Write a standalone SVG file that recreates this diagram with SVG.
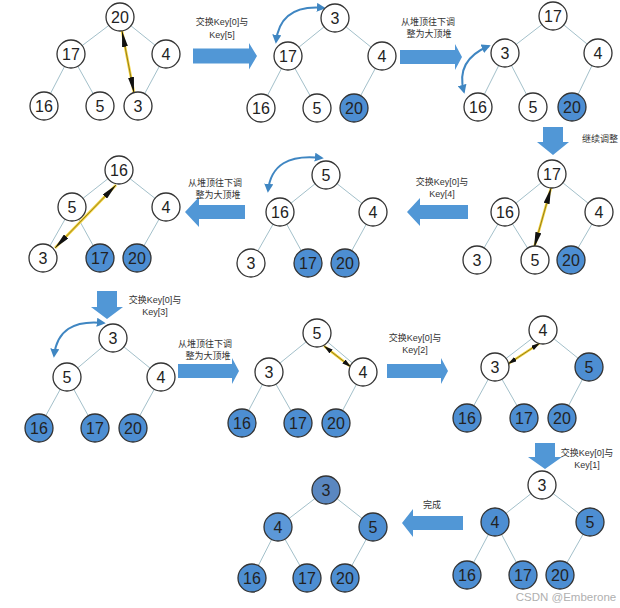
<svg xmlns="http://www.w3.org/2000/svg" width="620" height="608" viewBox="0 0 620 608">
<style>
.e{stroke:#a3c0ca;stroke-width:1;fill:none}
.n circle{fill:#fff;stroke:#333;stroke-width:1.3}
.n circle.f{fill:#4d8ed2}
.n text{font-family:"Liberation Sans",Arial,sans-serif;font-size:16px;fill:#222;text-anchor:middle}
.lb{font-family:"Liberation Sans","Noto Sans CJK SC",sans-serif;font-size:9px;fill:#333;text-anchor:middle}
.ba{fill:#5197d6}
.ya{stroke:#f3d23a;stroke-width:2.6;fill:none}
.yc{stroke:#6b5a10;stroke-width:0.7;fill:none}
.cv{stroke:#3f86c2;stroke-width:2;fill:none}
</style>
<defs>
<marker id="mk" viewBox="0 0 16 6" refX="16" refY="3" markerWidth="16" markerHeight="6" orient="auto-start-reverse" markerUnits="userSpaceOnUse"><path d="M0,0 L16,3 L0,6 z" fill="#111"/></marker>
<marker id="ms" viewBox="0 0 9 5" refX="9" refY="2.5" markerWidth="9" markerHeight="5" orient="auto-start-reverse" markerUnits="userSpaceOnUse"><path d="M0,0 L9,2.5 L0,5 z" fill="#111"/></marker>
<marker id="mb" viewBox="0 0 10 10" refX="8" refY="5" markerWidth="9" markerHeight="9" orient="auto-start-reverse" markerUnits="userSpaceOnUse"><path d="M0,0 L10,5 L0,10 z" fill="#3f86c2"/></marker>
</defs>
<rect width="620" height="608" fill="#fff"/>

<g id="connectors">
<path class="e" d="M120,17L71,54M120,17L166,54M71,54L44,106M71,54L100,106M166,54L138,106"/>
<path class="e" d="M335,18L288,56M335,18L382,56M288,56L261,108M288,56L317,108M382,56L354,108"/>
<path class="e" d="M553,16L505,53M553,16L598,53M505,53L478,107M505,53L533,107M598,53L572,107"/>
<path class="e" d="M552,174L505,212M552,174L599,212M505,212L477,260M505,212L535,260M599,212L571,260"/>
<path class="e" d="M326,175L280,212M326,175L373,212M280,212L251,263M280,212L308,263M373,212L345,263"/>
<path class="e" d="M119,170L72,207M119,170L166,207M72,207L43,258M72,207L100,258M166,207L137,258"/>
<path class="e" d="M113,338L67,377M113,338L161,377M67,377L39,428M67,377L95,428M161,377L133,428"/>
<path class="e" d="M317,333L269,372M317,333L363,372M269,372L242,423M269,372L298,423M363,372L336,423"/>
<path class="e" d="M543,330L495,367M543,330L589,367M495,367L467,418M495,367L524,418M589,367L562,418"/>
<path class="e" d="M542,485L495,522M542,485L590,522M495,522L467,575M495,522L523,575M590,522L560,575"/>
<path class="e" d="M326,490L278,527M326,490L373,527M278,527L252,578M278,527L307,578M373,527L345,578"/>

<path class="ba" d="M193,48.5H249V43L257,56L249,69.5V63.5H193z"/>
<path class="ba" d="M400,50H455V44L462,57L455,70V64H400z"/>
<path class="ba" d="M543,127H563V142H569L553,155L537,142H543z"/>
<path class="ba" d="M468,205H420V198L407,212L420,226V219H468z"/>
<path class="ba" d="M245,205H199V197L185,212L199,227V219H245z"/>
<path class="ba" d="M97,291H117V307H123L107,319L91,307H97z"/>
<path class="ba" d="M178,364H232V358L239,371L232,384V378H178z"/>
<path class="ba" d="M387,364H441V358L448,371L441,384V378H387z"/>
<path class="ba" d="M535,443H555V457H562L545,469L528,457H535z"/>
<path class="ba" d="M463,516H413V509L402,523L413,537V530H463z"/>

<path class="ya" d="M122,31L134,93"/><path class="yc" d="M122,31L134,93" marker-start="url(#mk)" marker-end="url(#mk)"/>
<path class="ya" d="M551,188L534,248"/><path class="yc" d="M551,188L534,248" marker-start="url(#mk)" marker-end="url(#mk)"/>
<path class="ya" d="M116,185L55,248"/><path class="yc" d="M116,185L55,248" marker-start="url(#mk)" marker-end="url(#mk)"/>
<path class="ya" d="M324,346L351,367"/><path class="yc" d="M324,346L351,367" marker-start="url(#ms)" marker-end="url(#ms)"/>
<path class="ya" d="M540,343L508,364"/><path class="yc" d="M540,343L508,364" marker-start="url(#ms)" marker-end="url(#ms)"/>

<path class="cv" d="M276,42Q280,4 324,8" marker-start="url(#mb)" marker-end="url(#mb)"/>
<path class="cv" d="M489,46Q455,60 464,92" marker-start="url(#mb)" marker-end="url(#mb)"/>
<path class="cv" d="M268,191Q272,152 322,158" marker-start="url(#mb)" marker-end="url(#mb)"/>
<path class="cv" d="M54,356Q58,318 104,323" marker-start="url(#mb)" marker-end="url(#mb)"/>
</g>

<g id="labels">
<text class="lb" x="222" y="25">交换Key[0]与</text><text class="lb" x="222" y="38">Key[5]</text>
<text class="lb" x="428" y="25">从堆顶往下调</text><text class="lb" x="429" y="37">整为大顶堆</text>
<text class="lb" x="600" y="142">继续调整</text>
<text class="lb" x="442" y="185">交换Key[0]与</text><text class="lb" x="442" y="197">Key[4]</text>
<text class="lb" x="215" y="186">从堆顶往下调</text><text class="lb" x="218" y="198">整为大顶堆</text>
<text class="lb" x="155" y="303">交换Key[0]与</text><text class="lb" x="155" y="315">Key[3]</text>
<text class="lb" x="205" y="347">从堆顶往下调</text><text class="lb" x="208" y="359">整为大顶堆</text>
<text class="lb" x="415" y="341">交换Key[0]与</text><text class="lb" x="415" y="353">Key[2]</text>
<text class="lb" x="587" y="456">交换Key[0]与</text><text class="lb" x="587" y="468">Key[1]</text>
<text class="lb" x="432" y="508">完成</text>
<text x="566" y="601" style="font-family:'Liberation Sans',sans-serif;font-size:11.5px;fill:#b0b0b0;text-anchor:middle">CSDN @Emberone</text>
</g>

<g id="p1-20" class="n"><circle cx="120" cy="17" r="14"/><text x="120" y="23">20</text></g>
<g id="p1-17" class="n"><circle cx="71" cy="54" r="14"/><text x="71" y="60">17</text></g>
<g id="p1-4" class="n"><circle cx="166" cy="54" r="14"/><text x="166" y="60">4</text></g>
<g id="p1-16" class="n"><circle cx="44" cy="106" r="14"/><text x="44" y="112">16</text></g>
<g id="p1-5" class="n"><circle cx="100" cy="106" r="14"/><text x="100" y="112">5</text></g>
<g id="p1-3" class="n"><circle cx="138" cy="106" r="14"/><text x="138" y="112">3</text></g>
<g id="p2-3" class="n"><circle cx="335" cy="18" r="14"/><text x="335" y="24">3</text></g>
<g id="p2-17" class="n"><circle cx="288" cy="56" r="14"/><text x="288" y="62">17</text></g>
<g id="p2-4" class="n"><circle cx="382" cy="56" r="14"/><text x="382" y="62">4</text></g>
<g id="p2-16" class="n"><circle cx="261" cy="108" r="14"/><text x="261" y="114">16</text></g>
<g id="p2-5" class="n"><circle cx="317" cy="108" r="14"/><text x="317" y="114">5</text></g>
<g id="p2-20" class="n"><circle class="f" cx="354" cy="108" r="14"/><text x="354" y="114">20</text></g>
<g id="p3-17" class="n"><circle cx="553" cy="16" r="14"/><text x="553" y="22">17</text></g>
<g id="p3-3" class="n"><circle cx="505" cy="53" r="14"/><text x="505" y="59">3</text></g>
<g id="p3-4" class="n"><circle cx="598" cy="53" r="14"/><text x="598" y="59">4</text></g>
<g id="p3-16" class="n"><circle cx="478" cy="107" r="14"/><text x="478" y="113">16</text></g>
<g id="p3-5" class="n"><circle cx="533" cy="107" r="14"/><text x="533" y="113">5</text></g>
<g id="p3-20" class="n"><circle class="f" cx="572" cy="107" r="14"/><text x="572" y="113">20</text></g>
<g id="p4-17" class="n"><circle cx="552" cy="174" r="14"/><text x="552" y="180">17</text></g>
<g id="p4-16" class="n"><circle cx="505" cy="212" r="14"/><text x="505" y="218">16</text></g>
<g id="p4-4" class="n"><circle cx="599" cy="212" r="14"/><text x="599" y="218">4</text></g>
<g id="p4-3" class="n"><circle cx="477" cy="260" r="14"/><text x="477" y="266">3</text></g>
<g id="p4-5" class="n"><circle cx="535" cy="260" r="14"/><text x="535" y="266">5</text></g>
<g id="p4-20" class="n"><circle class="f" cx="571" cy="260" r="14"/><text x="571" y="266">20</text></g>
<g id="p5-5" class="n"><circle cx="326" cy="175" r="14"/><text x="326" y="181">5</text></g>
<g id="p5-16" class="n"><circle cx="280" cy="212" r="14"/><text x="280" y="218">16</text></g>
<g id="p5-4" class="n"><circle cx="373" cy="212" r="14"/><text x="373" y="218">4</text></g>
<g id="p5-3" class="n"><circle cx="251" cy="263" r="14"/><text x="251" y="269">3</text></g>
<g id="p5-17" class="n"><circle class="f" cx="308" cy="263" r="14"/><text x="308" y="269">17</text></g>
<g id="p5-20" class="n"><circle class="f" cx="345" cy="263" r="14"/><text x="345" y="269">20</text></g>
<g id="p6-16" class="n"><circle cx="119" cy="170" r="14"/><text x="119" y="176">16</text></g>
<g id="p6-5" class="n"><circle cx="72" cy="207" r="14"/><text x="72" y="213">5</text></g>
<g id="p6-4" class="n"><circle cx="166" cy="207" r="14"/><text x="166" y="213">4</text></g>
<g id="p6-3" class="n"><circle cx="43" cy="258" r="14"/><text x="43" y="264">3</text></g>
<g id="p6-17" class="n"><circle class="f" cx="100" cy="258" r="14"/><text x="100" y="264">17</text></g>
<g id="p6-20" class="n"><circle class="f" cx="137" cy="258" r="14"/><text x="137" y="264">20</text></g>
<g id="p7-3" class="n"><circle cx="113" cy="338" r="14"/><text x="113" y="344">3</text></g>
<g id="p7-5" class="n"><circle cx="67" cy="377" r="14"/><text x="67" y="383">5</text></g>
<g id="p7-4" class="n"><circle cx="161" cy="377" r="14"/><text x="161" y="383">4</text></g>
<g id="p7-16" class="n"><circle class="f" cx="39" cy="428" r="14"/><text x="39" y="434">16</text></g>
<g id="p7-17" class="n"><circle class="f" cx="95" cy="428" r="14"/><text x="95" y="434">17</text></g>
<g id="p7-20" class="n"><circle class="f" cx="133" cy="428" r="14"/><text x="133" y="434">20</text></g>
<g id="p8-5" class="n"><circle cx="317" cy="333" r="14"/><text x="317" y="339">5</text></g>
<g id="p8-3" class="n"><circle cx="269" cy="372" r="14"/><text x="269" y="378">3</text></g>
<g id="p8-4" class="n"><circle cx="363" cy="372" r="14"/><text x="363" y="378">4</text></g>
<g id="p8-16" class="n"><circle class="f" cx="242" cy="423" r="14"/><text x="242" y="429">16</text></g>
<g id="p8-17" class="n"><circle class="f" cx="298" cy="423" r="14"/><text x="298" y="429">17</text></g>
<g id="p8-20" class="n"><circle class="f" cx="336" cy="423" r="14"/><text x="336" y="429">20</text></g>
<g id="p9-4" class="n"><circle cx="543" cy="330" r="14"/><text x="543" y="336">4</text></g>
<g id="p9-3" class="n"><circle cx="495" cy="367" r="14"/><text x="495" y="373">3</text></g>
<g id="p9-5" class="n"><circle class="f" cx="589" cy="367" r="14"/><text x="589" y="373">5</text></g>
<g id="p9-16" class="n"><circle class="f" cx="467" cy="418" r="14"/><text x="467" y="424">16</text></g>
<g id="p9-17" class="n"><circle class="f" cx="524" cy="418" r="14"/><text x="524" y="424">17</text></g>
<g id="p9-20" class="n"><circle class="f" cx="562" cy="418" r="14"/><text x="562" y="424">20</text></g>
<g id="p10-3" class="n"><circle cx="542" cy="485" r="14"/><text x="542" y="491">3</text></g>
<g id="p10-4" class="n"><circle class="f" cx="495" cy="522" r="14"/><text x="495" y="528">4</text></g>
<g id="p10-5" class="n"><circle class="f" cx="590" cy="522" r="14"/><text x="590" y="528">5</text></g>
<g id="p10-16" class="n"><circle class="f" cx="467" cy="575" r="14"/><text x="467" y="581">16</text></g>
<g id="p10-17" class="n"><circle class="f" cx="523" cy="575" r="14"/><text x="523" y="581">17</text></g>
<g id="p10-20" class="n"><circle class="f" cx="560" cy="575" r="14"/><text x="560" y="581">20</text></g>
<g id="p11-3" class="n"><circle class="f" cx="326" cy="490" r="14" style="fill:#5a87c0"/><text x="326" y="496">3</text></g>
<g id="p11-4" class="n"><circle class="f" cx="278" cy="527" r="14" style="fill:#5c98d8"/><text x="278" y="533">4</text></g>
<g id="p11-5" class="n"><circle class="f" cx="373" cy="527" r="14"/><text x="373" y="533">5</text></g>
<g id="p11-16" class="n"><circle class="f" cx="252" cy="578" r="14"/><text x="252" y="584">16</text></g>
<g id="p11-17" class="n"><circle class="f" cx="307" cy="578" r="14"/><text x="307" y="584">17</text></g>
<g id="p11-20" class="n"><circle class="f" cx="345" cy="578" r="14"/><text x="345" y="584">20</text></g>
</svg>
